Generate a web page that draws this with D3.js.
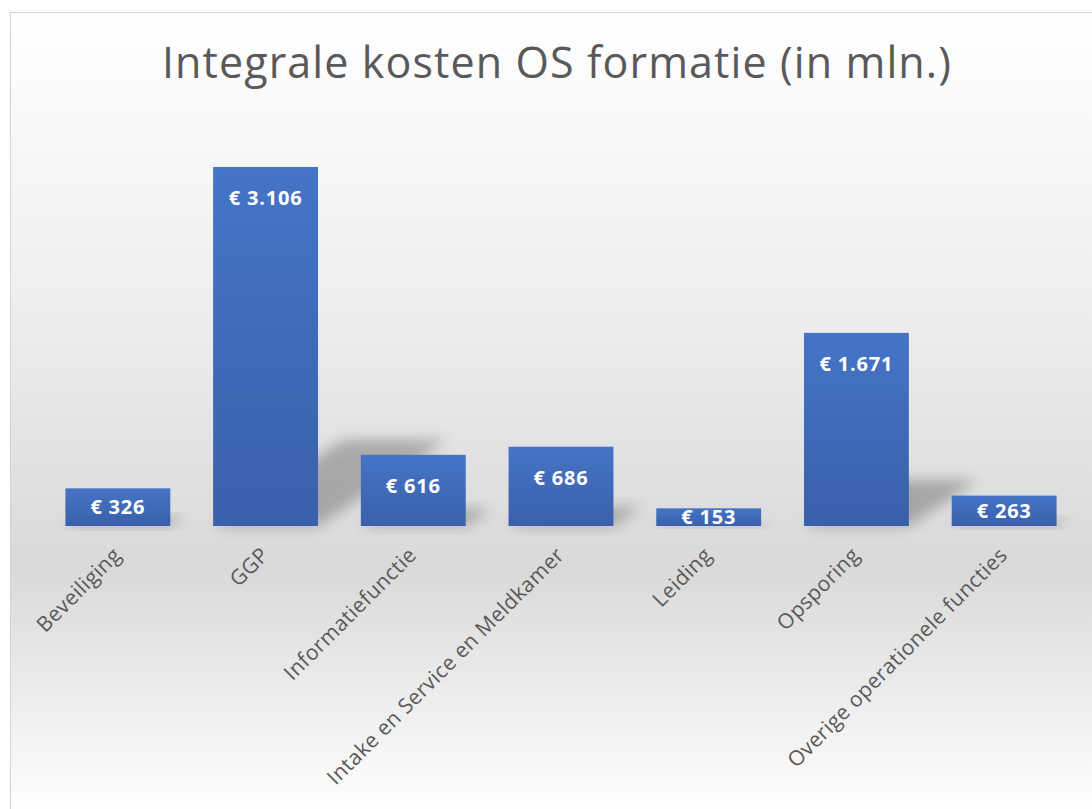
<!DOCTYPE html>
<html>
<head>
<meta charset="utf-8">
<script src="https://cdn.jsdelivr.net/npm/d3@7"></script>
<style>
  body { margin: 0; background: #fff; }
  svg { display: block; }
</style>
</head>
<body>
<div id="container"></div>
<script>
const categories = ["Beveiliging", "GGP", "Informatiefunctie", "Intake en Service en Meldkamer", "Leiding", "Opsporing", "Overige operationele functies"];
const values = [326, 3106, 616, 686, 153, 1671, 263];
const valueLabels = ["€ 326", "€ 3.106", "€ 616", "€ 686", "€ 153", "€ 1.671", "€ 263"];
const title = "Integrale kosten OS formatie (in mln.)";

const width = 1092;
const height = 809;
const baseline = 526;

const svg = d3.select("#container")
	.append("svg")
		.attr("width", width)
		.attr("height", height);

const defs = svg.append("defs");

const bg = defs.append("linearGradient")
	.attr("id", "bg")
	.attr("x1", 0).attr("y1", 0).attr("x2", 0).attr("y2", 1);
bg.append("stop").attr("offset", "0").attr("stop-color", "#ffffff");
bg.append("stop").attr("offset", "0.35").attr("stop-color", "#eeeeee");
bg.append("stop").attr("offset", "0.67").attr("stop-color", "#d9d9d9");
bg.append("stop").attr("offset", "0.97").attr("stop-color", "#ffffff");

const barGrad = defs.append("linearGradient")
	.attr("id", "bar")
	.attr("x1", 0).attr("y1", 0).attr("x2", 0).attr("y2", 1);
barGrad.append("stop").attr("offset", "0").attr("stop-color", "#4674c6");
barGrad.append("stop").attr("offset", "1").attr("stop-color", "#3960aa");

defs.append("filter")
	.attr("id", "blur")
	.attr("x", "-50%").attr("y", "-50%").attr("width", "200%").attr("height", "200%")
	.append("feGaussianBlur")
		.attr("stdDeviation", 7);

// frame
svg.append("rect")
	.attr("x", 10.5)
	.attr("y", 12.5)
	.attr("width", width + 20)
	.attr("height", height + 20)
	.style("fill", "url(#bg)")
	.style("stroke", "#d4d4d4");

const x = d3.scaleBand()
	.domain(categories)
	.range([44, 1078])
	.paddingInner(0.29)
	.paddingOuter(0.145);

const y = d3.scaleLinear()
	.domain([0, 3106])
	.range([baseline, 167]);

const data = categories.map((c, i) => ({ cat: c, value: values[i], label: valueLabels[i] }));

// shadows
svg.append("g")
	.selectAll("path")
	.data(data)
	.enter()
	.append("path")
		.attr("d", (d) => {
			const x0 = x(d.cat), x1 = x0 + x.bandwidth();
			const h = baseline - y(d.value);
			const dx = h * 0.36, dy = h * 0.24;
			return `M${x0},${baseline} L${x1},${baseline} L${x1 + dx},${baseline - dy} L${x0 + dx},${baseline - dy} Z`;
		})
		.style("fill", "#000")
		.style("opacity", 0.25)
		.attr("filter", "url(#blur)");

// bars
svg.append("g")
	.selectAll("rect")
	.data(data)
	.enter()
	.append("rect")
		.attr("x", (d) => x(d.cat))
		.attr("y", (d) => y(d.value))
		.attr("width", x.bandwidth())
		.attr("height", (d) => baseline - y(d.value))
		.style("fill", "url(#bar)");

// value labels
svg.append("g")
	.selectAll("text")
	.data(data)
	.enter()
	.append("text")
		.text((d) => d.label)
		.attr("x", (d) => x(d.cat) + x.bandwidth() / 2)
		.attr("y", (d) => y(d.value) + Math.min((baseline - y(d.value)) / 2, 31))
		.attr("dy", "0.36em")
		.attr("text-anchor", "middle")
		.style("font-family", "'Open Sans', sans-serif")
		.style("font-weight", 700)
		.style("font-size", "20px")
		.style("letter-spacing", "0.8px")
		.style("fill", "#ffffff");

// category labels
svg.append("g")
	.selectAll("text")
	.data(categories)
	.enter()
	.append("text")
		.text((d) => d)
		.attr("transform", (d) => `translate(${x(d) + x.bandwidth() / 2 - 6}, 546) rotate(-45)`)
		.attr("text-anchor", "end")
		.attr("dy", "0.7em")
		.style("font-family", "'Open Sans', sans-serif")
		.style("font-size", "21px")
		.style("letter-spacing", "0.4px")
		.style("fill", "#595959");

// title
svg.append("text")
	.text(title)
	.attr("x", 557)
	.attr("y", 78)
	.attr("text-anchor", "middle")
	.style("font-family", "'Open Sans', sans-serif")
	.style("font-weight", 400)
	.style("font-size", "43px")
	.style("letter-spacing", "1.1px")
	.style("fill", "#595959");
</script>
</body>
</html>
